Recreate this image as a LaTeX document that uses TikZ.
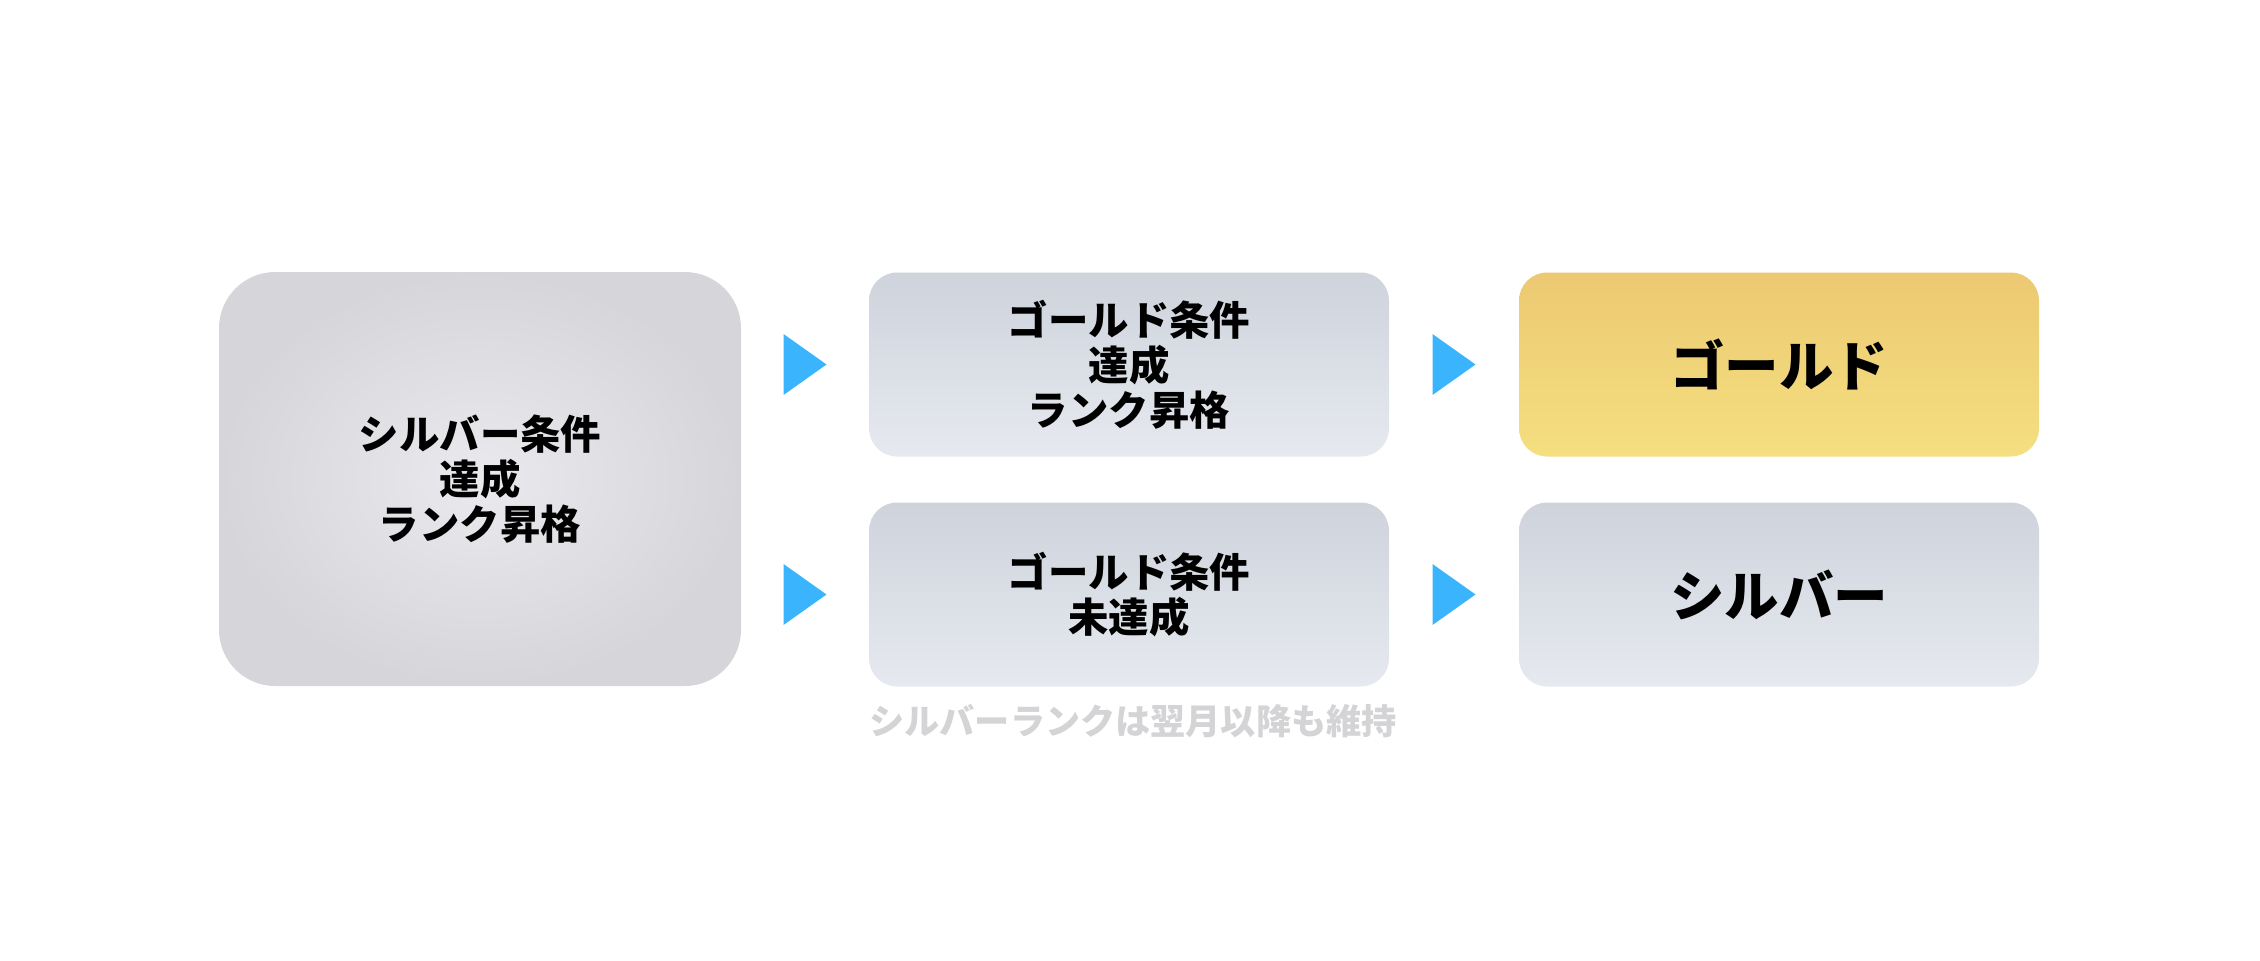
\documentclass[tikz,border=0pt]{standalone}
\usepackage{fontspec}
\setmainfont{Noto Sans CJK JP}
\usepackage{xcolor}
\definecolor{rkgray}{RGB}{214,214,218}
\definecolor{rkgraylt}{RGB}{234,234,238}
\definecolor{rksilver}{RGB}{206,211,220}
\definecolor{rksilverlt}{RGB}{230,233,239}
\definecolor{rkgold}{RGB}{236,201,114}
\definecolor{rkgoldlt}{RGB}{245,223,128}
\definecolor{rkblue}{RGB}{58,180,252}
\definecolor{rknote}{RGB}{212,212,214}
\usepackage{tikz}
\usetikzlibrary{calc, positioning}

\tikzset{
  startbox/.style={rectangle, rounded corners=16pt, minimum width=5.22cm, minimum height=4.14cm,
    inner color=rkgraylt, outer color=rkgray, align=center, font=\fontsize{11.5}{12.8}\selectfont\bfseries},
  condbox/.style={rectangle, rounded corners=8pt, minimum width=5.2cm, minimum height=1.84cm,
    top color=rksilver, bottom color=rksilverlt, align=center, font=\fontsize{11.5}{12.8}\selectfont\bfseries},
  rankbox/.style={condbox, font=\fontsize{15.5}{17}\selectfont\bfseries},
  goldbox/.style={rankbox, top color=rkgold, bottom color=rkgoldlt},
}

\begin{document}
\begin{tikzpicture}
  \useasboundingbox (0,0) rectangle (22.6,9.6);

  % Start
  \node[startbox] (silverok) at (4.80,4.81) {シルバー条件\\達成\\ランク昇格};

  % Conditions
  \node[condbox] (goldok) at (11.29,5.955) {ゴールド条件\\達成\\ランク昇格};
  \node[condbox] (goldng) at (11.29,3.655) {ゴールド条件\\未達成};

  % Results
  \node[goldbox] (gold) at (17.79,5.955) {ゴールド};
  \node[rankbox] (silver) at (17.79,3.655) {シルバー};

  % Note
  \node[font=\fontsize{10}{12}\selectfont\bfseries, rknote] (note) at (11.33,2.39) {シルバーランクは翌月以降も維持};

  % Arrows
  \coordinate (a1) at ($(silverok.east |- goldok)!0.5!(goldok.west)$);
  \coordinate (a2) at ($(silverok.east |- goldng)!0.5!(goldng.west)$);
  \coordinate (a3) at ($(goldok.east)!0.5!(gold.west)$);
  \coordinate (a4) at ($(goldng.east)!0.5!(silver.west)$);
  \foreach \a in {a1,a2,a3,a4}
    \fill[rkblue] ($(\a)+(-0.215,0.305)$) -- ($(\a)+(0.215,0)$) -- ($(\a)+(-0.215,-0.305)$) -- cycle;
\end{tikzpicture}
\end{document}
